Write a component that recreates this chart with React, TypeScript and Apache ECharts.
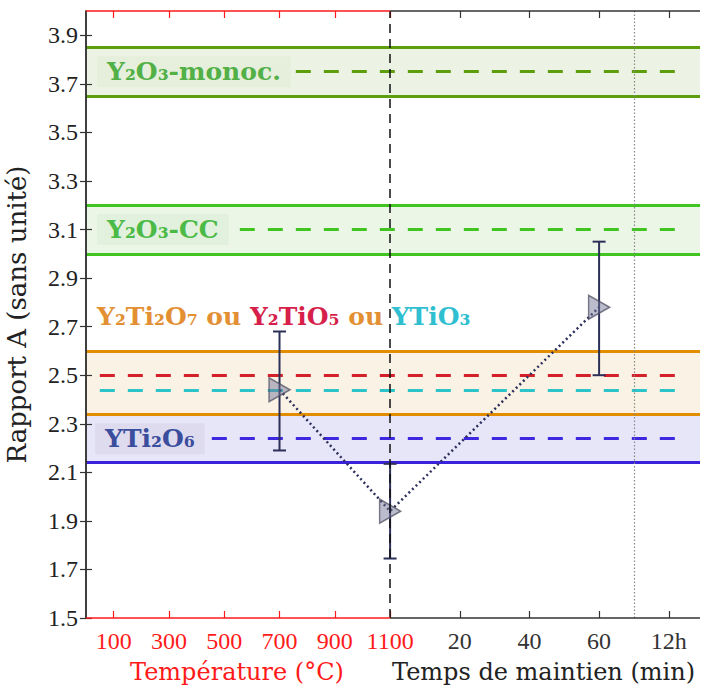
import React, { useEffect, useRef } from "react";
import * as echarts from "echarts";

// ---- data ----
const X_MAX = 2221; // right edge of the combined axis (temperature units)
const TIME_ORIGIN = 1100; // temperature axis ends at 1100 °C, time axis starts there
const TIME_SCALE = 12.6; // axis units per minute on the time part
const tx = (t: number) => TIME_ORIGIN + t * TIME_SCALE;

const tempTicks = [100, 300, 500, 700, 900, 1100];
const timeSlots = [20, 40, 60, 80];
const timeLabels = ["20", "40", "60", "12h"];
const yTicks = [1.5, 1.7, 1.9, 2.1, 2.3, 2.5, 2.7, 2.9, 3.1, 3.3, 3.5, 3.7, 3.9];
const Y_MIN = 1.5;
const Y_MAX = 4.0;

const pointX = [700, 1100, tx(60)];
const pointY = [2.44, 1.94, 2.78];
const errLow = [2.19, 1.745, 2.5];
const errHigh = [2.68, 2.135, 3.05];

const bandLow = [2.14, 2.34, 3.0, 3.65];
const bandHigh = [2.34, 2.6, 3.2, 3.85];
const bandFill = ["#e7e5f8", "#faf2e4", "#ebf6e7", "#edf3e4"];
const bandLine = ["#3a22dc", "#e28c00", "#3fc420", "#5c9e0c"];

const refValues = [2.24, 2.5, 2.44, 3.1, 3.75];
const refColors = ["#3d28e0", "#d42028", "#2cc4c8", "#3fc420", "#5c9e0c"];

const phaseLabels = ["Y₂O₃-monoc.", "Y₂O₃-CC", "YTi₂O₆"];
const phaseLabelX = [40, 40, 33];
const phaseLabelY = [3.75, 3.1, 2.238];
const phaseLabelColor = ["#52b046", "#4cba46", "#3b4e9e"];
const phaseLabelBg = ["#e5efdb", "#e2f1de", "#dfdbee"];

const holdLineTime = 70; // dotted marker on the time axis

export default function App() {
  const ref = useRef<HTMLDivElement>(null);
  useEffect(() => {
    if (!ref.current) return;
    const chart = echarts.init(ref.current, null, { renderer: "svg" });
    const RED = "#ff1a1a";
    const DARK = "#333333";
    const tickFont = '"Liberation Serif", serif';
    const titleFont = '"DejaVu Serif", serif';

    const xs = X_MAX;
    const bandSeries: any = {
      type: "line",
      data: [],
      z: 1,
      silent: true,
      markArea: {
        silent: true,
        z: 1,
        data: bandLow.map((lo, i) => [
          { yAxis: lo, itemStyle: { color: bandFill[i] } },
          { yAxis: bandHigh[i] },
        ]),
      },
    };

    const solidLines: any[] = [];
    bandLow.forEach((lo, i) => {
      solidLines.push({ yAxis: lo, lineStyle: { color: bandLine[i], width: 3, type: "solid" } });
      solidLines.push({ yAxis: bandHigh[i], lineStyle: { color: bandLine[i], width: 3, type: "solid" } });
    });
    const dashLines: any[] = refValues.map((v, i) => [
      { coord: [50, v], lineStyle: { color: refColors[i], width: 3, type: [15, 13] } },
      { coord: [2130, v] },
    ]);

    const lineSeries: any = {
      type: "line",
      data: [],
      z: 2,
      silent: true,
      markLine: {
        silent: true,
        z: 2,
        symbol: ["none", "none"],
        label: { show: false },
        data: [...solidLines, ...dashLines],
      },
    };

    const frameSeries: any = {
      type: "line",
      data: [],
      z: 15,
      silent: true,
      clip: false,
      markLine: {
        silent: true,
        z: 15,
        symbol: ["none", "none"],
        label: { show: false },
        data: [
          { xAxis: 1100, lineStyle: { color: "#111", width: 1.5, type: [9, 6] } },
          { xAxis: tx(holdLineTime), lineStyle: { color: "#888", width: 1.2, type: [1.5, 2] } },
          [{ coord: [0, Y_MIN], lineStyle: { color: RED, width: 1.5, type: "solid" } }, { coord: [1100, Y_MIN] }],
          [{ coord: [1100, Y_MIN], lineStyle: { color: DARK, width: 1.5, type: "solid" } }, { coord: [xs, Y_MIN] }],
          [{ coord: [0, Y_MAX], lineStyle: { color: RED, width: 1.5, type: "solid" } }, { coord: [1100, Y_MAX] }],
          [{ coord: [1100, Y_MAX], lineStyle: { color: DARK, width: 1.5, type: "solid" } }, { coord: [xs, Y_MAX] }],
        ],
      },
    };

    const errorSeries: any = {
      type: "custom",
      z: 4,
      silent: true,
      data: pointX.map((x, i) => [x, errLow[i], errHigh[i]]),
      encode: { x: 0, y: [1, 2] },
      renderItem: (params: any, api: any) => {
        const x = api.value(0);
        const lo = api.coord([x, api.value(1)]);
        const hi = api.coord([x, api.value(2)]);
        const cap = 6.5;
        const style = { stroke: "#2c3058", lineWidth: 2 };
        return {
          type: "group",
          children: [
            { type: "line", shape: { x1: lo[0], y1: lo[1], x2: hi[0], y2: hi[1] }, style },
            { type: "line", shape: { x1: lo[0] - cap, y1: lo[1], x2: lo[0] + cap, y2: lo[1] }, style },
            { type: "line", shape: { x1: hi[0] - cap, y1: hi[1], x2: hi[0] + cap, y2: hi[1] }, style },
          ],
        };
      },
    };

    const connectSeries: any = {
      type: "line",
      z: 5,
      silent: true,
      data: pointX.map((x, i) => [x, pointY[i]]),
      symbol: "none",
      lineStyle: { color: "#2b2f5c", width: 2.5, type: [2, 3] },
    };

    const markerSeries: any = {
      type: "scatter",
      z: 6,
      silent: true,
      data: pointX.map((x, i) => [x, pointY[i]]),
      symbol: "triangle",
      symbolRotate: -90,
      symbolSize: [24, 21],
      itemStyle: {
        color: "rgba(112,114,148,0.6)",
        borderColor: "rgba(75,75,95,0.9)",
        borderWidth: 1.5,
      },
    };

    const xAxisBase = {
      type: "value",
      min: 0,
      max: X_MAX,
      splitLine: { show: false },
      axisLine: { show: false },
      z: 10,
    };

    const timeToLabel = (v: number) => {
      const idx = timeSlots.findIndex((t) => Math.abs(tx(t) - v) < 1);
      return idx >= 0 ? timeLabels[idx] : "";
    };

    const option: any = {
      animation: false,
      backgroundColor: "#ffffff",
      grid: { left: 86, right: 4, top: 11, bottom: 75, containLabel: false, outerBoundsMode: "none" },
      xAxis: [
        {
          ...xAxisBase,
          position: "bottom",
          axisTick: { show: true, inside: true, length: 7, customValues: tempTicks, lineStyle: { color: RED, width: 1.2 } },
          axisLabel: {
            show: true,
            customValues: tempTicks,
            color: RED,
            fontFamily: tickFont,
            fontSize: 24,
            margin: 11,
            formatter: (v: number) => String(Math.round(v)),
          },
        },
        {
          ...xAxisBase,
          position: "bottom",
          axisTick: { show: true, inside: true, length: 7, customValues: timeSlots.map(tx), lineStyle: { color: DARK, width: 1.2 } },
          axisLabel: {
            show: true,
            customValues: timeSlots.map(tx),
            color: DARK,
            fontFamily: tickFont,
            fontSize: 24,
            margin: 11,
            formatter: (v: number) => timeToLabel(v),
          },
        },
        {
          ...xAxisBase,
          position: "top",
          axisTick: { show: true, inside: true, length: 7, customValues: tempTicks, lineStyle: { color: RED, width: 1.2 } },
          axisLabel: { show: false },
        },
        {
          ...xAxisBase,
          position: "top",
          axisTick: { show: true, inside: true, length: 7, customValues: timeSlots.map(tx), lineStyle: { color: DARK, width: 1.2 } },
          axisLabel: { show: false },
        },
      ],
      yAxis: [
        {
          type: "value",
          min: Y_MIN,
          max: Y_MAX,
          position: "left",
          z: 10,
          splitLine: { show: false },
          axisLine: { show: true, lineStyle: { color: DARK, width: 1.5 } },
          axisTick: { show: true, inside: true, length: 6, customValues: yTicks, lineStyle: { color: DARK, width: 1.2 } },
          axisLabel: {
            show: true,
            customValues: yTicks,
            color: "#222",
            fontFamily: tickFont,
            fontSize: 24,
            margin: 8,
            formatter: (v: number) => v.toFixed(1),
          },
          name: "Rapport A (sans unité)",
          nameLocation: "middle",
          nameRotate: 90,
          nameGap: 56,
          nameTextStyle: { fontFamily: titleFont, fontSize: 26, color: "#222" },
        },
        {
          type: "value",
          min: Y_MIN,
          max: Y_MAX,
          position: "right",
          z: 10,
          splitLine: { show: false },
          axisLine: { show: true, lineStyle: { color: DARK, width: 1.5 } },
          axisTick: { show: true, inside: true, length: 6, customValues: yTicks, lineStyle: { color: DARK, width: 1.2 } },
          axisLabel: { show: false },
        },
      ],
      series: [bandSeries, lineSeries, errorSeries, connectSeries, markerSeries, frameSeries],
    };
    chart.setOption(option);

    // labels drawn on top of the dashed lines, anchored with data coordinates
    const toPx = (x: number, y: number) =>
      chart.convertToPixel({ xAxisIndex: 0, yAxisIndex: 0 }, [x, y]) as number[];
    const labelFont = { fontFamily: titleFont, fontWeight: "bold", fontSize: 25 };
    const graphics: any[] = phaseLabels.map((text, i) => {
      const p = toPx(phaseLabelX[i], phaseLabelY[i]);
      return {
        type: "text",
        x: p[0],
        y: p[1],
        z: 100,
        silent: true,
        style: {
          text,
          fill: phaseLabelColor[i],
          backgroundColor: phaseLabelBg[i],
          padding: [3, 10, 3, 10],
          align: "left",
          verticalAlign: "middle",
          ...labelFont,
        },
      };
    });
    const pm = toPx(40, 2.74);
    graphics.push({
      type: "text",
      x: pm[0],
      y: pm[1],
      z: 100,
      silent: true,
      style: {
        text: "{o|Y₂Ti₂O₇ ou }{r|Y₂TiO₅}{o| ou }{c|YTiO₃}",
        align: "left",
        verticalAlign: "middle",
        ...labelFont,
        rich: {
          o: { fill: "#e39034", ...labelFont },
          r: { fill: "#d61f4a", ...labelFont },
          c: { fill: "#2fbfd0", ...labelFont },
        },
      },
    });
    graphics.push(
      {
        type: "text",
        left: 130,
        top: 660,
        style: { text: "Température (°C)", fill: RED, fontFamily: titleFont, fontSize: 24 },
      },
      {
        type: "text",
        left: 392,
        top: 660,
        style: { text: "Temps de maintien (min)", fill: "#222", fontFamily: titleFont, fontSize: 24 },
      }
    );
    chart.setOption({ graphic: graphics });

    return () => chart.dispose();
  }, []);

  return (
    <div
      ref={ref}
      style={{ position: "fixed", left: 0, top: 0, width: 704, height: 693, background: "#fff" }}
    />
  );
}
